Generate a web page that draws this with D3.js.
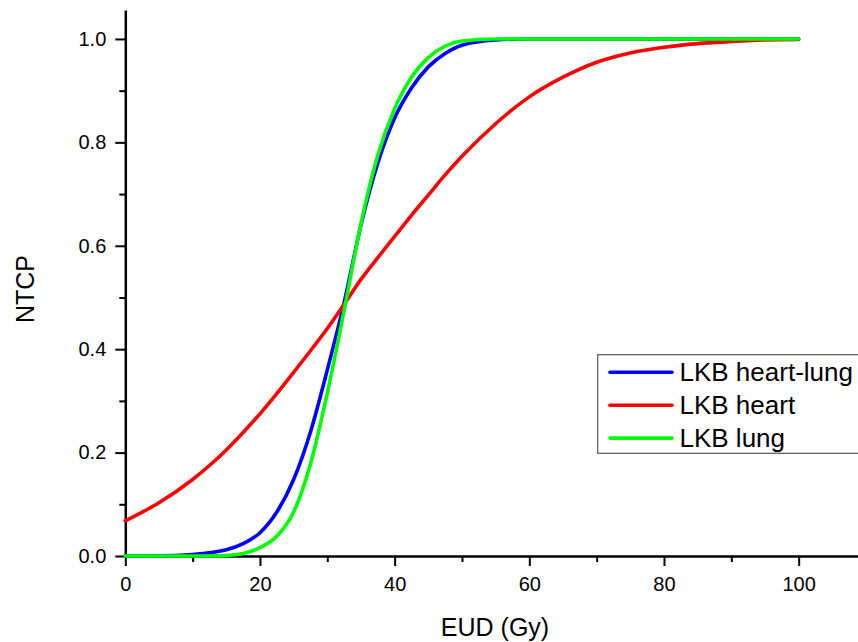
<!DOCTYPE html>
<html>
<head>
<meta charset="utf-8">
<script src="https://cdn.jsdelivr.net/npm/d3@7"></script>
<style>
  body { margin: 0; background: #fff; }
  svg { display: block; font-family: "Liberation Sans", Arial, sans-serif; }
  .axis path, .axis line { stroke: #000; }
</style>
</head>
<body>
<div id="chart-area"></div>
<script>
// EUD (Gy) sample points
const dose = [0, 5, 10, 12.5, 15, 17.5, 20, 22.5, 25, 27.5, 30, 32.5, 35, 37.5, 40,
  42.5, 45, 47.5, 50, 55, 60, 65, 70, 75, 80, 85, 90, 95, 100];

const heartLung = [0, 0.0003, 0.003, 0.006, 0.012, 0.024, 0.045, 0.085, 0.148, 0.24, 0.36, 0.49, 0.64, 0.76, 0.847,
  0.905, 0.946, 0.972, 0.988, 0.998, 1, 1, 1, 1, 1, 1, 1, 1, 1];
const heart = [0.068, 0.103, 0.148, 0.175, 0.205, 0.239, 0.275, 0.314, 0.355, 0.397, 0.44, 0.487, 0.535, 0.577, 0.618,
  0.659, 0.698, 0.737, 0.773, 0.836, 0.888, 0.926, 0.955, 0.973, 0.984, 0.991, 0.995, 0.998, 0.999];
const lung = [0, 0, 0, 0.0002, 0.001, 0.005, 0.016, 0.038, 0.085, 0.178, 0.315, 0.475, 0.643, 0.775, 0.865,
  0.926, 0.964, 0.986, 0.996, 1, 1, 1, 1, 1, 1, 1, 1, 1, 1];

const seriesNames = ['LKB heart-lung', 'LKB heart', 'LKB lung'];
const seriesColors = ['#0000ff', '#ff0000', '#00ff00'];
const seriesValues = [heartLung, heart, lung];

const xMajor = [0, 20, 40, 60, 80, 100];
const xMinor = [10, 30, 50, 70, 90];
const yMajor = [0, 0.2, 0.4, 0.6, 0.8, 1.0];
const yMinor = [0.1, 0.3, 0.5, 0.7, 0.9];

const width = 858, height = 642;

const svg = d3.select('#chart-area')
  .append('svg')
    .attr('width', width)
    .attr('height', height);

const xScale = d3.scaleLinear()
  .domain([0, 110])
  .range([125.3, 866]);

const yScale = d3.scaleLinear()
  .domain([0, 1.056])
  .range([556, 10]);

// minor ticks first, majors on top
svg.append('g')
  .attr('class', 'axis')
  .attr('transform', 'translate(0,556)')
  .call(d3.axisBottom(xScale).tickValues(xMinor).tickSize(6).tickSizeOuter(0).tickFormat(''))
  .call(g => g.select('.domain').remove())
  .selectAll('line').attr('stroke-width', 2);

svg.append('g')
  .attr('class', 'axis')
  .attr('transform', 'translate(125.3,0)')
  .call(d3.axisLeft(yScale).tickValues(yMinor).tickSize(6).tickSizeOuter(0).tickFormat(''))
  .call(g => g.select('.domain').remove())
  .selectAll('line').attr('stroke-width', 2);

const xAxisGroup = svg.append('g')
  .attr('class', 'axis')
  .attr('transform', 'translate(0,556)')
  .call(d3.axisBottom(xScale).tickValues(xMajor).tickSize(10).tickSizeOuter(0).tickPadding(11));
xAxisGroup.select('.domain').attr('stroke-width', 2.5);
xAxisGroup.selectAll('line').attr('stroke-width', 2);
xAxisGroup.selectAll('text')
  .attr('font-size', 20)
  .attr('font-family', '"Liberation Sans", Arial, sans-serif')
  .attr('fill', '#000');

const yAxisGroup = svg.append('g')
  .attr('class', 'axis')
  .attr('transform', 'translate(125.3,0)')
  .call(d3.axisLeft(yScale).tickValues(yMajor).tickSize(10).tickSizeOuter(0).tickPadding(9)
    .tickFormat(d3.format('.1f')));
yAxisGroup.select('.domain').attr('stroke-width', 2.5);
yAxisGroup.selectAll('line').attr('stroke-width', 2);
yAxisGroup.selectAll('text')
  .attr('font-size', 20)
  .attr('font-family', '"Liberation Sans", Arial, sans-serif')
  .attr('fill', '#000');

// axis titles
svg.append('text')
  .attr('x', 495)
  .attr('y', 636)
  .attr('text-anchor', 'middle')
  .attr('font-size', 25)
  .text('EUD (Gy)');

svg.append('text')
  .attr('transform', 'translate(34,289) rotate(-90)')
  .attr('text-anchor', 'middle')
  .attr('font-size', 25)
  .text('NTCP');

// curves
const line = d3.line()
  .x(d => xScale(d[0]))
  .y(d => yScale(d[1]))
  .curve(d3.curveMonotoneX);

seriesValues.forEach((vals, i) => {
  svg.append('path')
    .datum(dose.map((x, j) => [x, vals[j]]))
    .attr('fill', 'none')
    .attr('stroke', seriesColors[i])
    .attr('stroke-width', 3.6)
    .attr('stroke-linecap', 'round')
    .attr('stroke-linejoin', 'round')
    .attr('d', line);
});

// legend
const legend = svg.append('g');
legend.append('rect')
  .attr('x', 597.7)
  .attr('y', 354.7)
  .attr('width', 300)
  .attr('height', 98.6)
  .attr('fill', '#fff')
  .attr('stroke', '#555')
  .attr('stroke-width', 1.2);

seriesNames.forEach((name, i) => {
  const y = 372.3 + i * 32.9;
  legend.append('line')
    .attr('x1', 610)
    .attr('x2', 672)
    .attr('y1', y)
    .attr('y2', y)
    .attr('stroke', seriesColors[i])
    .attr('stroke-width', 3.6)
    .attr('stroke-linecap', 'round');
  legend.append('text')
    .attr('x', 679.5)
    .attr('y', y + 8.8)
    .attr('font-size', 26)
    .attr('fill', '#000')
    .text(name);
});
</script>
</body>
</html>
